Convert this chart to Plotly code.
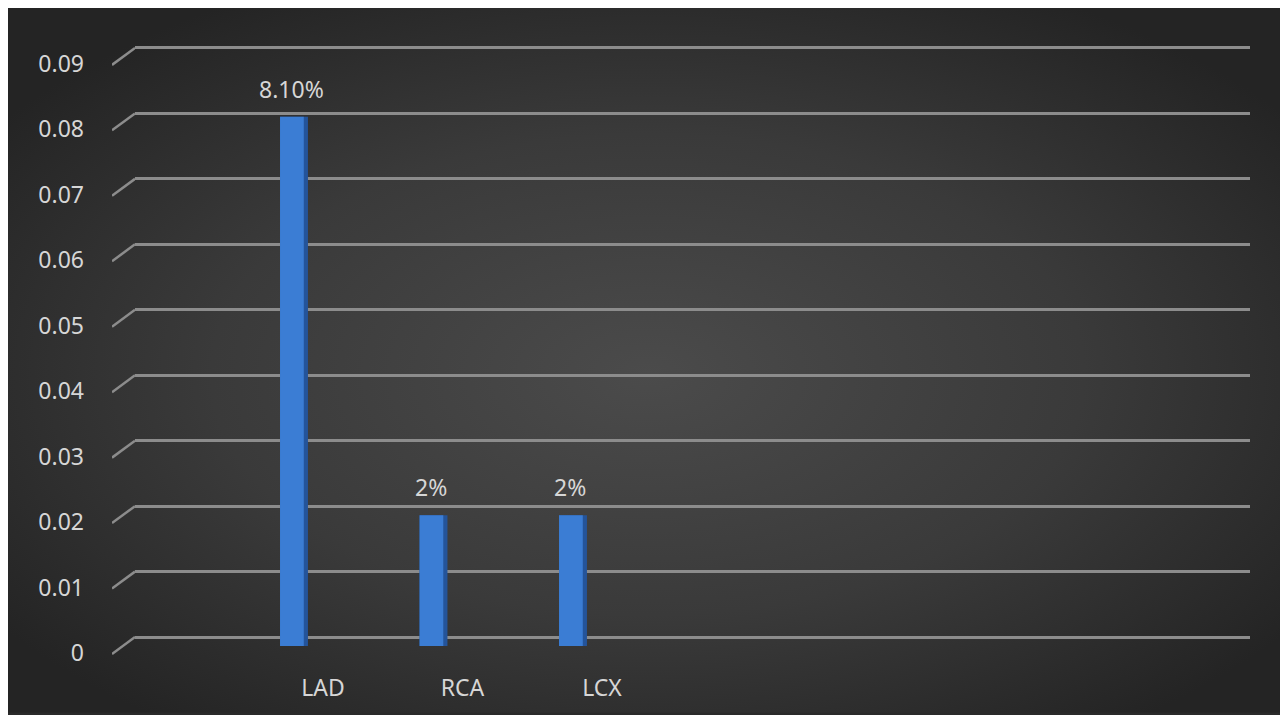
import base64
import plotly.graph_objects as go

# ---------------- data ----------------
categories = ["LAD", "RCA", "LCX"]
values = [0.081, 0.02, 0.02]
data_labels = ["8.10%", "2%", "2%"]
tick_values = [0, 0.01, 0.02, 0.03, 0.04, 0.05, 0.06, 0.07, 0.08, 0.09]
tick_labels = ["0", "0.01", "0.02", "0.03", "0.04", "0.05", "0.06", "0.07", "0.08", "0.09"]

# ---------------- style ----------------
# page body has an 8px margin, so the figure is 1280x707 inside the 1288x715 window
W, H = 1280, 707
ML, MR, MT, MB = 92, 38, 32, 55
PW, PH = W - ML - MR, H - MT - MB
TEXT_COLOR = "#d6d6d6"
GRID_COLOR = "#8c8c8c"
FONT = "Noto Sans"
FS = 23

# background gradient (decorative)
svg = (
    "<svg xmlns='http://www.w3.org/2000/svg' width='1280' height='707' preserveAspectRatio='none'>"
    "<defs><radialGradient id='g' cx='50%' cy='52%' r='62%'>"
    "<stop offset='0' stop-color='#4b4b4b'/><stop offset='0.55' stop-color='#3a3a3a'/>"
    "<stop offset='1' stop-color='#242424'/></radialGradient></defs>"
    "<rect width='100%' height='100%' fill='url(#g)'/></svg>"
)
bg_src = "data:image/svg+xml;base64," + base64.b64encode(svg.encode()).decode()

# axis geometry
x_dom0 = 35 / PW
px_per_cat = 139.5
x_r0 = -159 / px_per_cat
x_r1 = x_r0 + (PW - 35) / px_per_cat

bar_unit = 6557.0
y_r0 = -12 / bar_unit
y_r1 = y_r0 + PH / bar_unit

grid_unit = 6567.0
g_r0 = -21 / grid_unit
g_r1 = g_r0 + PH / grid_unit
diag_drop = 17 / grid_unit

fig = go.Figure()

# invisible trace so the back-wall axis (gridlines + tick labels) is drawn
fig.add_trace(go.Scatter(
    x=categories, y=values, mode="markers", marker=dict(opacity=0),
    hoverinfo="skip", showlegend=False,
))

# side face of 3D bars
fig.add_trace(go.Bar(
    x=categories, y=values, width=0.2, offset=-0.1, yaxis="y2",
    marker=dict(color="#24549a", line=dict(width=0)),
    hoverinfo="skip", showlegend=False,
))
# front face of 3D bars
fig.add_trace(go.Bar(
    x=categories, y=values, width=0.17, offset=-0.1, yaxis="y2",
    marker=dict(color="#3b7dd4", line=dict(width=0)),
    showlegend=False,
))

# perspective diagonals of gridlines
dx, dy = [], []
for v in tick_values:
    dx += [0, 1, None]
    dy += [v - diag_drop, v, None]
fig.add_trace(go.Scatter(
    x=dx, y=dy, xaxis="x2", yaxis="y3", mode="lines",
    line=dict(color=GRID_COLOR, width=2.5), hoverinfo="skip", showlegend=False,
))

# data labels
for c, v, t in zip(categories, values, data_labels):
    fig.add_annotation(x=c, y=v, yref="y2", text=t, showarrow=False, yshift=28, xshift=-3,
                       font=dict(family=FONT, size=FS, color=TEXT_COLOR))

fig.update_layout(
    width=W, height=H,
    margin=dict(l=ML, r=MR, t=MT, b=MB),
    paper_bgcolor="#2a2a2a",
    plot_bgcolor="rgba(0,0,0,0)",
    barmode="overlay",
    font=dict(family=FONT, size=FS, color=TEXT_COLOR),
    images=[dict(
        source=bg_src, xref="paper", yref="paper",
        x=-ML / PW, y=(PH + MT) / PH,
        sizex=W / PW, sizey=H / PH,
        xanchor="left", yanchor="top", sizing="stretch", layer="below",
    )],
    xaxis=dict(
        domain=[x_dom0, 1], range=[x_r0, x_r1], type="category",
        showgrid=False, zeroline=False, showline=False, ticks="",
        tickfont=dict(family=FONT, size=FS, color=TEXT_COLOR),
        ticklabelshift=29, ticklabelstandoff=14,
    ),
    # back-wall gridlines and tick labels
    yaxis=dict(
        anchor="x", side="left",
        range=[g_r0, g_r1], tickvals=tick_values, ticktext=tick_labels,
        showgrid=True, gridcolor=GRID_COLOR, gridwidth=2.6,
        zeroline=False, showline=False, ticks="",
        tickfont=dict(family=FONT, size=FS, color=TEXT_COLOR),
        ticklabelshift=16, ticklabelstandoff=50,
    ),
    # bar value scale (front plane)
    yaxis2=dict(
        overlaying="y", anchor="x", range=[y_r0, y_r1], showgrid=False, zeroline=False,
        showticklabels=False, showline=False, ticks="",
    ),
    xaxis2=dict(domain=[(112 - 100) / PW, x_dom0], range=[0, 1], anchor="y3",
                visible=False, fixedrange=True),
    yaxis3=dict(domain=[0, 1], range=[g_r0, g_r1], anchor="x2", visible=False),
)

fig.write_html("out.html")
